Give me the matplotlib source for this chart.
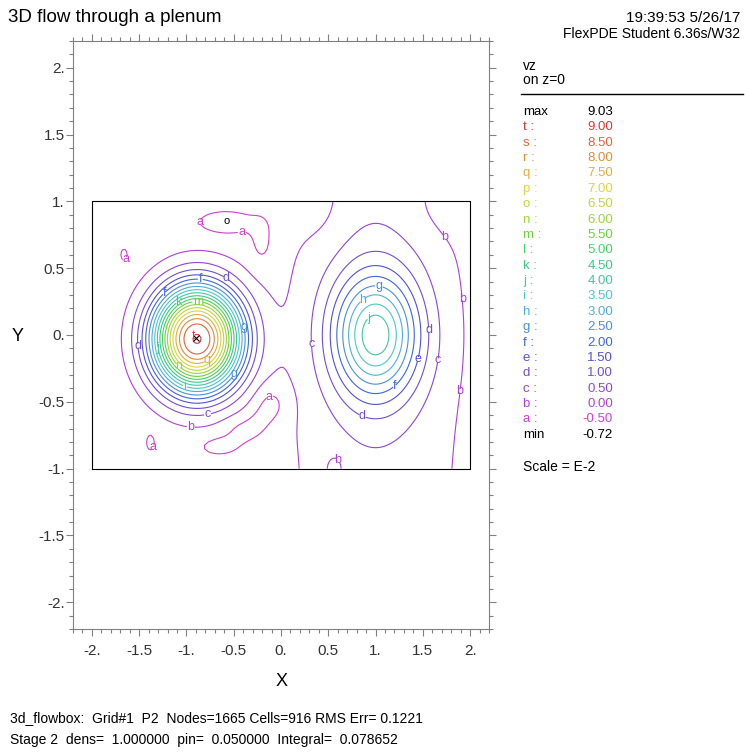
import numpy as np
import matplotlib.pyplot as plt
from matplotlib.ticker import MultipleLocator

plt.rcParams['font.family'] = ['Liberation Sans', 'DejaVu Sans']

title = "3D flow through a plenum"
stamp = ["19:39:53 5/26/17", "FlexPDE Student 6.36s/W32"]
footer = ["3d_flowbox:  Grid#1  P2  Nodes=1665 Cells=916 RMS Err= 0.1221",
          "Stage 2  dens=  1.000000  pin=  0.050000  Integral=  0.078652"]
var_name = ["vz", "on z=0"]
scale_text = "Scale = E-2"

letters = list("tsrqponmlkjihgfedcba")
levels = [9.0, 8.5, 8.0, 7.5, 7.0, 6.5, 6.0, 5.5, 5.0, 4.5,
          4.0, 3.5, 3.0, 2.5, 2.0, 1.5, 1.0, 0.5, 0.0, -0.5]
vmax_txt, vmin_txt = "9.03", "-0.72"
level_colors = ["#d9383a", "#e0643c", "#e08c3c", "#e0b03c", "#dcd43c",
                "#bcd83c", "#9cd43c", "#6cd040", "#48d060", "#40c882",
                "#40c8a4", "#4cc8c8", "#4cb0dc", "#4890dc", "#4066d8",
                "#5450d4", "#7050d0", "#9046d0", "#b040d8", "#d040d0"]

# vz field on z=0 (units of E-2): background plus elliptical bumps
background = -0.3
bump_x = [-0.89, 1.0, 1.0, -0.55, -0.2, -0.65, -0.38, -0.1, -0.24, -1.38, -1.66, 0.45, 1.65, 0.58]
bump_y = [-0.03, 0.0, 0.0, 0.84, 0.7, -0.83, -0.71, -0.52, -0.62, -0.8, 0.6, 1.0, 1.0, -1.0]
bump_amp = [9.33, 4.0, 0.7, -0.48, -0.45, -0.38, -0.42, -0.52, -0.2, -0.3, -0.3, -0.25, -0.2, -0.35]
bump_sx = [0.33, 0.316, 0.65, 0.25, 0.09, 0.18, 0.16, 0.12, 0.1, 0.05, 0.04, 0.2, 0.25, 0.08]
bump_sy = [0.273, 0.325, 2.5, 0.07, 0.13, 0.06, 0.07, 0.1, 0.07, 0.07, 0.05, 0.25, 0.2, 0.1]
bump_p = [1.15, 1.0, 1.0, 1.0, 1.0, 1.0, 1.0, 1.0, 1.0, 1.0, 1.0, 1.0, 1.0, 1.0]

# where the letters sit on the contours
label_x = [-1.0, -0.42, -1.66, -0.85, -0.59, -1.22, -1.09, -0.88, -0.93, -0.39,
           -1.54, -1.31, -0.77, -1.09, -0.51, -1.01, -0.78, -0.94, -0.13, -1.35,
           1.85, 1.87, 1.05, 0.91, 0.9, 1.6, 0.12, 1.67, 1.45, 1.19, 1.96, 0.95, 0.58]
label_y = [0.84, 0.81, 0.57, 0.43, 0.42, 0.31, 0.25, 0.25, -0.01, 0.06,
           -0.08, -0.1, -0.19, -0.23, -0.29, -0.38, -0.59, -0.66, -0.46, -0.84,
           0.75, 0.27, 0.38, 0.25, 0.13, 0.04, -0.07, -0.19, -0.18, -0.38, -0.42, -0.57, -0.94]

xticks = [-2.0, -1.5, -1.0, -0.5, 0.0, 0.5, 1.0, 1.5, 2.0]
xtick_labels = ["-2.", "-1.5", "-1.", "-0.5", "0.", "0.5", "1.", "1.5", "2."]
yticks = xticks
ytick_labels = xtick_labels

gx = np.linspace(-2, 2, 161)
gy = np.linspace(-1, 1, 81)
X, Y = np.meshgrid(gx, gy)
Z = np.full_like(X, background)
for bx, by, a, sx, sy, p in zip(bump_x, bump_y, bump_amp, bump_sx, bump_sy, bump_p):
    q = (X - bx) ** 2 / (2 * sx ** 2) + (Y - by) ** 2 / (2 * sy ** 2)
    Z += a * np.exp(-q ** p)

W, H = 745, 753
fig = plt.figure(figsize=(W / 100, H / 100), dpi=100)
ax = fig.add_axes([73 / W, 124 / H, 416 / W, 588 / H])

lv = levels[::-1]
cs = ax.contour(X, Y, Z, levels=lv, colors=level_colors[::-1], linewidths=0.8)
fmt = {l: s for l, s in zip(levels, letters)}
ax.clabel(cs, manual=list(zip(label_x, label_y)), fmt=fmt, inline=True,
          inline_spacing=1, fontsize=9)
for t in cs.labelTexts:
    t.set_rotation(0)

imax = np.unravel_index(np.argmax(Z), Z.shape)
imin = np.unravel_index(np.argmin(Z), Z.shape)
ax.plot(X[imax], Y[imax], marker='x', color='black', ms=5, mew=0.8)
ax.text(X[imin], Y[imin], "o", color='black', fontsize=8, ha='center', va='center')

ax.plot([-2, 2, 2, -2, -2], [-1, -1, 1, 1, -1], color='black', lw=0.8)

ax.set_xlim(-2.2, 2.2)
ax.set_ylim(-2.2, 2.2)
ax.set_xticks(xticks)
ax.set_xticklabels(xtick_labels)
ax.set_yticks(yticks)
ax.set_yticklabels(ytick_labels)
ax.xaxis.set_minor_locator(MultipleLocator(0.1))
ax.yaxis.set_minor_locator(MultipleLocator(0.1))
ax.tick_params(which='both', direction='out', top=True, right=True, color='#808080',
               width=0.8, labelsize=11, labelcolor='#333333')
ax.tick_params(which='major', length=5)
ax.tick_params(which='minor', length=3)
ax.tick_params(axis='x', pad=6)
ax.tick_params(axis='y', pad=1)
for sp in ax.spines.values():
    sp.set_color('#808080')
    sp.set_linewidth(0.8)

def ftext(x, y, s, **kw):
    fig.text(x / W, 1 - y / H, s, va='center', **kw)

ftext(8, 17, title, fontsize=13.5)
ftext(740, 18, stamp[0], fontsize=11, ha='right')
ftext(740, 34, stamp[1], fontsize=10, ha='right')
ftext(282, 681, "X", fontsize=13, ha='center')
ftext(18, 336, "Y", fontsize=13, ha='center')
ftext(10, 718, footer[0], fontsize=10)
ftext(10, 740, footer[1], fontsize=10)

ftext(523, 66, var_name[0], fontsize=10)
ftext(523, 80, var_name[1], fontsize=10)
fig.add_artist(plt.Line2D([521 / W, 743 / W], [1 - 94 / H, 1 - 94 / H], color='black', lw=1))

row_names = ["max"] + [s + " :" for s in letters] + ["min"]
row_vals = [vmax_txt] + ["%.2f" % v for v in levels] + [vmin_txt]
row_cols = ["black"] + level_colors + ["black"]
for i, (n, v, c) in enumerate(zip(row_names, row_vals, row_cols)):
    yy = 112 + i * 15.37
    ftext(523, yy, n, fontsize=9.5, color=c)
    ftext(613, yy, v, fontsize=9.5, color=c, ha='right')
ftext(523, 467, scale_text, fontsize=10)

fig.savefig("out.png", dpi=100)
